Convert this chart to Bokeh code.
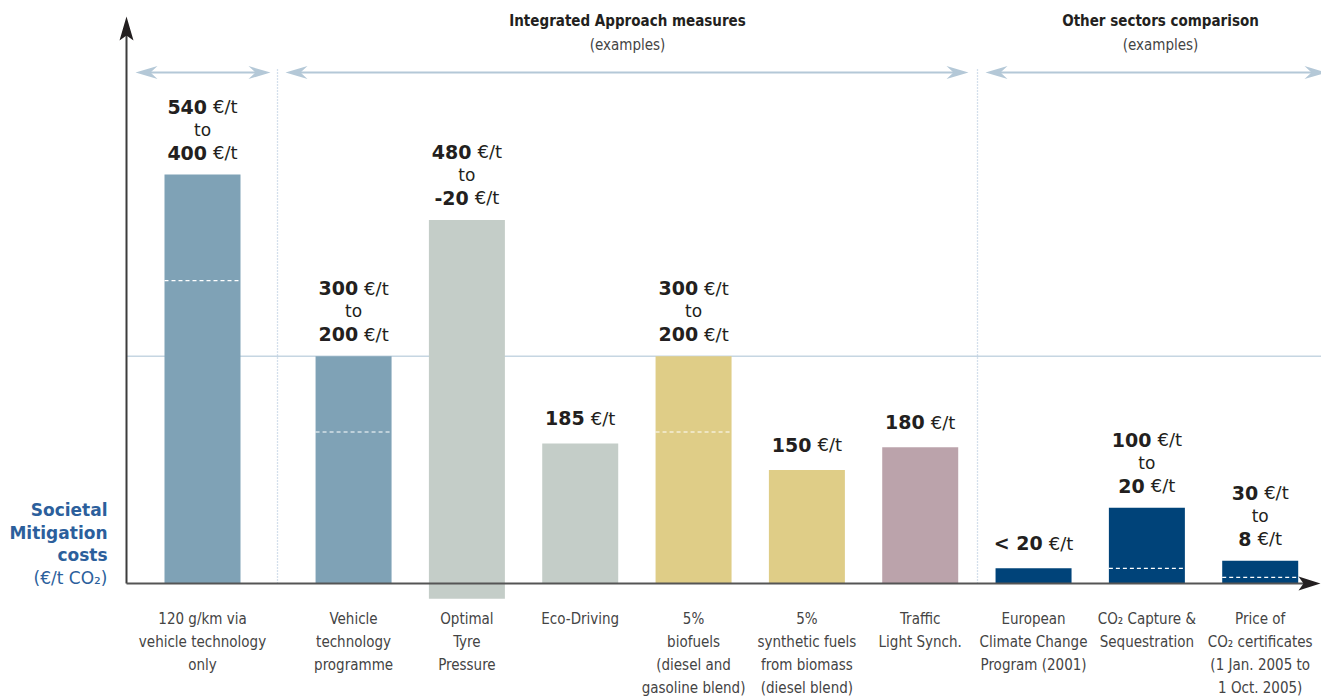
import numpy as np
from bokeh.plotting import figure
from bokeh.models import Range1d, ColumnDataSource
from bokeh.core.properties import value
from bokeh.embed import file_html
from bokeh.resources import INLINE

# ---------------- data ----------------
CATEGORIES = [
    "120 g/km via\nvehicle technology\nonly",
    "Vehicle\ntechnology\nprogramme",
    "Optimal\nTyre\nPressure",
    "Eco-Driving",
    "5%\nbiofuels\n(diesel and\ngasoline blend)",
    "5%\nsynthetic fuels\nfrom biomass\n(diesel blend)",
    "Traffic\nLight Synch.",
    "European\nClimate Change\nProgram (2001)",
    "CO\u2082 Capture &\nSequestration",
    "Price of\nCO\u2082 certificates\n(1 Jan. 2005 to\n1 Oct. 2005)",
]
GROUP = ["base", "integrated", "integrated", "integrated", "integrated",
         "integrated", "integrated", "other", "other", "other"]
HIGH = [540, 300, 480, 185, 300, 150, 180, 20, 100, 30]
LOW = [400, 200, -20, None, 200, None, None, None, 20, 8]
HIGH_LABEL = ["540", "300", "480", "185", "300", "150", "180", "< 20", "100", "30"]
LOW_LABEL = ["400", "200", "-20", None, "200", None, None, None, "20", "8"]
REFERENCE_LEVEL = 300
SECTION_TITLES = ["Integrated Approach measures", "Other sectors comparison"]
SECTION_SUB = ["(examples)", "(examples)"]
UNIT = "\u20ac/t"

# ---------------- styles ----------------
BAR_COLORS = ["#7fa2b6", "#7fa2b6", "#c4cdc8", "#c4cdc8", "#dfcd87",
              "#dfcd87", "#bba3ab", "#004379", "#004379", "#004379"]
TEXT_DARK = "#231f20"
LABEL_GRAY = "#3d3d3d"
AXIS_COLOR = "#3c3c3c"
ARROW_BLUE = "#b4c8d7"
TITLE_BLUE = "#2c5f9c"
COND_FONT = "DejaVu Sans Condensed, Roboto, sans-serif"

W, H = 1321, 698
UX = 113.33           # px per category step
K = 409.0 / 540.0     # px per EUR/t
X0PX, Y0PX = 202.0, 583.0


def X(px):
    return (px - X0PX) / UX


def Y(py):
    return (Y0PX - py) / K


GAP = 0.333
xpos = np.array([i + (GAP if GROUP[i] != "base" else 0.0) for i in range(len(HIGH))])
BAR_W = 76 / UX

p = figure(width=W, height=H, output_backend="svg", toolbar_location=None,
           x_range=Range1d(X(0), X(W)), y_range=Range1d(Y(H), Y(0)),
           x_axis_type=None, y_axis_type=None, min_border=0,
           outline_line_color=None, background_fill_color="white")
p.xgrid.visible = False
p.ygrid.visible = False


def head(tip_px, tip_py, direction, L, w, n):
    dx, dy = direction
    px_, py_ = -dy, dx
    pts = [(tip_px, tip_py),
           (tip_px - dx * L + px_ * w / 2, tip_py - dy * L + py_ * w / 2),
           (tip_px - dx * n, tip_py - dy * n),
           (tip_px - dx * L - px_ * w / 2, tip_py - dy * L - py_ * w / 2)]
    return [X(a) for a, b in pts], [Y(b) for a, b in pts]


# reference line at 300
p.segment(x0=[X(126)], x1=[X(W)], y0=[REFERENCE_LEVEL], y1=[REFERENCE_LEVEL],
          line_color="#c6d6e2", line_width=1.5)

# dotted separators
p.segment(x0=[X(277), X(977)], x1=[X(277), X(977)], y0=[0, 0], y1=[Y(68), Y(68)],
          line_color="#a9c0d9", line_width=1.3, line_dash="1 2")

# top section arrows
arrow_spans = [(135, 270), (285, 968), (985, 1326)]
hx, hy = [], []
for a, b in arrow_spans:
    p.line([X(a + 10), X(b - 10)], [Y(72), Y(72)], line_color=ARROW_BLUE, line_width=2)
    xs, ys = head(a, 72, (-1, 0), 22, 13, 15)
    hx.append(xs); hy.append(ys)
    xs, ys = head(b, 72, (1, 0), 22, 13, 15)
    hx.append(xs); hy.append(ys)
p.patches(hx, hy, fill_color=ARROW_BLUE, line_color=None)

# bars
bottom = [min(0, l) if l is not None else 0 for l in LOW]
src = ColumnDataSource(dict(x=xpos, top=HIGH, bottom=bottom, color=BAR_COLORS))
p.vbar(x="x", top="top", bottom="bottom", width=BAR_W, fill_color="color",
       line_color=None, source=src)

# dashed white lower-bound marks
dx_, dy_ = [], []
for i, l in enumerate(LOW):
    if l is not None and l > 0:
        dx_.append(xpos[i]); dy_.append(l)
dx_ = np.array(dx_)
p.segment(x0=dx_ - BAR_W / 2, x1=dx_ + BAR_W / 2, y0=dy_, y1=dy_,
          line_color="white", line_width=1.2, line_dash="4 3")

# axes
p.line([X(126), X(126)], [0, Y(30)], line_color=AXIS_COLOR, line_width=2)
xs, ys = head(126, 16, (0, -1), 24, 14, 19)
p.patch(xs, ys, fill_color=TEXT_DARK, line_color=None)
p.line([X(126), X(1305)], [0, 0], line_color="#555555", line_width=2)
xs, ys = head(1320, 583, (1, 0), 22, 14, 17)
p.patch(xs, ys, fill_color=TEXT_DARK, line_color=None)

# value labels
BOLD_W = {"<": 0.838, " ": 0.348, "-": 0.415}
NUM_SIZE, UNIT_SIZE = 19, 18
UNIT_W = 1.365 * UNIT_SIZE
SPACE = 6
LINE = 23

nx, ny, nt, ux, uy, tx, ty = [], [], [], [], [], [], []
for i in range(len(HIGH)):
    lines = [HIGH_LABEL[i]]
    if LOW_LABEL[i] is not None:
        lines = [HIGH_LABEL[i], "to", LOW_LABEL[i]]
    gap = 22 if len(lines) > 1 else 25
    top = HIGH[i]
    n = len(lines)
    for j, s in enumerate(lines):
        yy = top + (gap + LINE * (n - 1 - j)) / K
        if s == "to":
            tx.append(xpos[i]); ty.append(yy)
            continue
        wnum = sum(BOLD_W.get(c, 0.696) for c in s) * NUM_SIZE
        total = wnum + SPACE + UNIT_W
        left = -total / 2
        nx.append(xpos[i] + left / UX); ny.append(yy); nt.append(s)
        ux.append(xpos[i] + (left + wnum + SPACE) / UX); uy.append(yy)

p.text(nx, ny, text=nt, text_font=value("DejaVu Sans"), text_font_style="bold",
       text_font_size=f"{NUM_SIZE}px", text_color=TEXT_DARK, text_align="left",
       text_baseline="middle")
p.text(ux, uy, text=[UNIT] * len(ux), text_font=value("DejaVu Sans"),
       text_font_size=f"{UNIT_SIZE}px", text_color=TEXT_DARK, text_align="left",
       text_baseline="middle")
p.text(tx, ty, text=["to"] * len(tx), text_font=value("DejaVu Sans"),
       text_font_size="17px", text_color=TEXT_DARK, text_align="center",
       text_baseline="middle")

# category labels
p.text(xpos, [Y(609)] * len(xpos), text=CATEGORIES,
       text_font=value(COND_FONT), text_font_size="15px",
       text_color="#444444", text_align="center", text_baseline="top",
       text_line_height=1.28)

# section titles
p.text([X(627), X(1160)], [Y(20), Y(20)], text=SECTION_TITLES,
       text_font=value(COND_FONT), text_font_style="bold",
       text_font_size="15px", text_color=TEXT_DARK, text_align="center",
       text_baseline="middle")
p.text([X(627), X(1160)], [Y(44), Y(44)], text=SECTION_SUB,
       text_font=value(COND_FONT), text_font_size="15px",
       text_color="#444444", text_align="center", text_baseline="middle")

# y-axis title
p.text([X(107)] * 3, [Y(509), Y(532), Y(554)], text=["Societal", "Mitigation", "costs"],
       text_font=value("DejaVu Sans"), text_font_style="bold", text_font_size="17px",
       text_color=TITLE_BLUE, text_align="right", text_baseline="middle")
p.text([X(107)], [Y(577)], text=["(\u20ac/t CO\u2082)"],
       text_font=value("DejaVu Sans"), text_font_size="17px",
       text_color=TITLE_BLUE, text_align="right", text_baseline="middle")

open("out.html", "w").write(file_html(p, INLINE))
